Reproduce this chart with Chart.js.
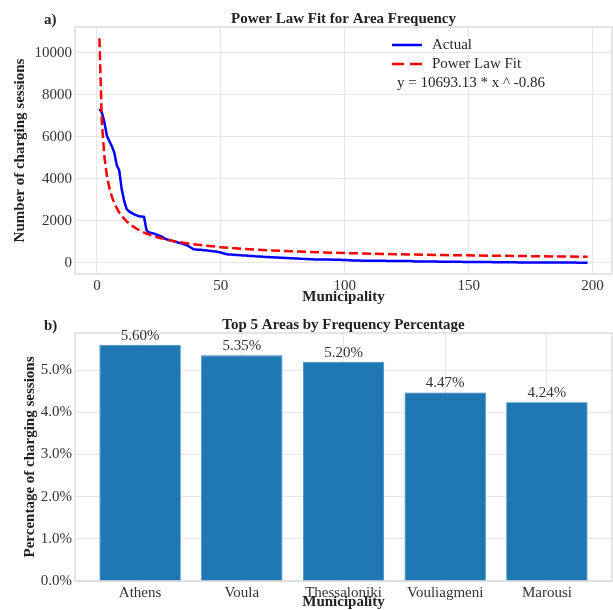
<!DOCTYPE html>
<html>
<head>
<meta charset="utf-8">
<title>Power Law Fit and Top 5 Areas</title>
<script src="https://cdn.jsdelivr.net/npm/chart.js@4.4.1/dist/chart.umd.min.js"></script>
<style>
  body { margin: 0; background: #fff; }
  canvas { display: block; }
</style>
</head>
<body>
<canvas id="fitChart" width="613" height="305"></canvas>
<canvas id="barChart" width="613" height="305"></canvas>
<script>
/////////////////////////////////////Data/////////////////////////////////////

// a) sessions per municipality, sorted high to low (rank 1..198)
const actualCounts = [
    7330, 7150, 6700, 6050, 5800, 5550, 5250, 4650, 4400, 3500,
    2950, 2560, 2450, 2380, 2310, 2260, 2220, 2210, 2190, 1560,
    1450, 1420, 1390, 1350, 1300, 1260, 1190, 1120, 1090, 1060,
    1030, 990, 955, 930, 890, 850, 790, 720, 650, 640,
    630, 620, 605, 595, 580, 565, 550, 540, 515, 495,
    460, 420, 400, 395, 390, 380, 372, 365, 355, 348,
    340, 332, 322, 312, 305, 298, 292, 285, 278, 270,
    262, 256, 250, 244, 238, 232, 226, 220, 214, 208,
    202, 196, 190, 186, 182, 178, 172, 166, 162, 160,
    158, 157, 156, 155, 152, 149, 146, 143, 140, 137,
    134, 128, 112, 110, 108, 107, 106, 105, 104, 103,
    101, 100, 98, 97, 96, 95, 94, 93, 92, 91,
    90, 89, 88, 87, 86, 85, 84, 70, 68, 67,
    66, 65, 64, 63, 62, 61, 60, 59, 58, 57,
    54, 53, 52, 51, 50, 49, 48, 47, 46, 45,
    44, 43, 42, 41, 40, 39, 38, 37, 36, 35,
    34, 33, 32, 31, 30, 26, 25, 24, 24, 23,
    23, 22, 22, 21, 21, 20, 20, 19, 19, 18,
    18, 17, 17, 16, 16, 15, 15, 14, 14, 13,
    13, 12, 12, 11, 11, 10, 10, 9
];

// fitted curve
const fitX = [1, 2, 3, 4, 5, 6, 7, 8, 9, 10, 12, 14, 16, 18, 20, 25, 30, 35, 40, 50,
              60, 70, 80, 90, 100, 120, 140, 160, 180, 198];
const fitY = [10693, 6675, 5065, 4166, 3579, 3162, 2848, 2600, 2400, 2234, 1974, 1777, 1623, 1498, 1395, 1198, 1058, 953, 870, 748,
              661, 595, 543, 501, 467, 413, 371, 339, 313, 293];
const fitEquation = 'y = 10693.13 * x ^ -0.86';

const fitXTicks = [0, 50, 100, 150, 200];
const fitYTicks = [0, 2000, 4000, 6000, 8000, 10000];

// b) top 5 areas
const areaNames = ['Athens', 'Voula', 'Thessaloniki', 'Vouliagmeni', 'Marousi'];
const areaShares = [5.60, 5.35, 5.20, 4.47, 4.24];
const shareTicks = [0, 1, 2, 3, 4, 5];

/////////////////////////////////////Style/////////////////////////////////////

Chart.defaults.font.family = "'Liberation Serif', 'Times New Roman', serif";
Chart.defaults.font.size = 15;
Chart.defaults.color = '#333';

const gridColor = '#e6e6e6';
const titleFont = { size: 15, weight: 'bold', lineHeight: 1 };

// light frame around the plot area (all four sides)
const framePlugin = {
    id: 'frame',
    beforeDatasetsDraw(chart) {
        const { ctx, chartArea: a } = chart;
        ctx.save();
        ctx.strokeStyle = '#d4d4d4';
        ctx.lineWidth = 1.2;
        ctx.strokeRect(a.left, a.top, a.right - a.left, a.bottom - a.top);
        ctx.restore();
    }
};

// "a)" / "b)" corner labels
const panelLabelPlugin = {
    id: 'panelLabel',
    afterDraw(chart, args, opts) {
        const ctx = chart.ctx;
        ctx.save();
        ctx.font = "bold 15px 'Liberation Serif', serif";
        ctx.fillStyle = '#222';
        ctx.textBaseline = 'middle';
        ctx.fillText(opts.text, opts.x, opts.y);
        ctx.restore();
    }
};

// legend box of the fit chart, top right inside the axes
const fitLegendPlugin = {
    id: 'fitLegend',
    afterDatasetsDraw(chart) {
        const ctx = chart.ctx;
        const right = chart.chartArea.right;
        const sets = chart.data.datasets;
        const x0 = right - 220, x1 = right - 190, tx = right - 180;
        ctx.save();
        ctx.font = "15px 'Liberation Serif', serif";
        ctx.fillStyle = '#262626';
        ctx.textBaseline = 'middle';
        [sets[1], sets[0]].forEach((ds, i) => {
            const y = 45 + i * 19;
            ctx.beginPath();
            ctx.strokeStyle = ds.borderColor;
            ctx.lineWidth = 2.5;
            ctx.setLineDash(ds.borderDash ? [12, 6] : []);
            ctx.moveTo(x0, y);
            ctx.lineTo(x1, y);
            ctx.stroke();
            ctx.fillText(ds.label, tx, y);
        });
        ctx.setLineDash([]);
        ctx.fillText(fitEquation, right - 215, 83);
        ctx.restore();
    }
};

// value labels on top of the bars
const barValuePlugin = {
    id: 'barValues',
    afterDatasetsDraw(chart) {
        const ctx = chart.ctx;
        const meta = chart.getDatasetMeta(0);
        ctx.save();
        ctx.font = "15px 'Liberation Serif', serif";
        ctx.fillStyle = '#333';
        ctx.textAlign = 'center';
        ctx.textBaseline = 'middle';
        meta.data.forEach((bar, i) => {
            ctx.fillText(areaShares[i].toFixed(2) + '%', bar.x, bar.y - 9);
        });
        ctx.restore();
    }
};

/////////////////////////////////////Chart a)/////////////////////////////////////

new Chart(document.getElementById('fitChart'), {
    type: 'line',
    data: {
        datasets: [
            {
                label: 'Power Law Fit',
                data: fitX.map((x, i) => ({ x: x, y: fitY[i] })),
                borderColor: '#ff0000',
                borderWidth: 2.5,
                borderDash: [9, 4],
                pointRadius: 0,
                order: 0
            },
            {
                label: 'Actual',
                data: actualCounts.map((v, i) => ({ x: i + 1, y: v })),
                borderColor: '#0000ff',
                borderWidth: 2.5,
                pointRadius: 0,
                order: 1
            }
        ]
    },
    options: {
        responsive: false,
        animation: false,
        layout: { padding: { left: 0, right: 1, top: 0, bottom: 0 } },
        plugins: {
            legend: { display: false },
            tooltip: { enabled: false },
            title: {
                display: true,
                text: 'Power Law Fit for Area Frequency',
                fullSize: false,
                color: '#222',
                font: titleFont,
                padding: { top: 12, bottom: 0 }
            },
            panelLabel: { text: 'a)', x: 44, y: 20 }
        },
        scales: {
            x: {
                type: 'linear',
                min: -8.85,
                max: 207.85,
                afterBuildTicks: s => { s.ticks = fitXTicks.map(v => ({ value: v })); },
                afterFit: s => { s.height = 31; },
                ticks: { padding: 3, callback: v => String(v) },
                grid: { color: gridColor, drawTicks: false },
                border: { display: false },
                title: {
                    display: true,
                    text: 'Municipality',
                    color: '#222',
                    font: titleFont,
                    padding: { top: 0, bottom: 0.5 }
                }
            },
            y: {
                type: 'linear',
                min: -530,
                max: 11227,
                afterBuildTicks: s => { s.ticks = fitYTicks.map(v => ({ value: v })); },
                afterFit: s => { s.width = 75; },
                ticks: { padding: 3, callback: v => String(v) },
                grid: { color: gridColor, drawTicks: false },
                border: { display: false },
                title: {
                    display: true,
                    text: 'Number of charging sessions',
                    color: '#222',
                    font: titleFont,
                    padding: { top: 12.5, bottom: 0 }
                }
            }
        }
    },
    plugins: [framePlugin, fitLegendPlugin, panelLabelPlugin]
});

/////////////////////////////////////Chart b)/////////////////////////////////////

new Chart(document.getElementById('barChart'), {
    type: 'bar',
    data: {
        datasets: [{
            label: 'Percentage',
            data: areaShares.map((v, i) => ({ x: i, y: v })),
            backgroundColor: '#1f77b4',
            borderColor: '#2a7fba',
            borderWidth: 0.8,
            barPercentage: 0.8,
            categoryPercentage: 1.0
        }]
    },
    options: {
        responsive: false,
        animation: false,
        layout: { padding: { left: 0, right: 1, top: 0, bottom: 0 } },
        plugins: {
            legend: { display: false },
            tooltip: { enabled: false },
            title: {
                display: true,
                text: 'Top 5 Areas by Frequency Percentage',
                fullSize: false,
                color: '#222',
                font: titleFont,
                padding: { top: 12.5, bottom: 0.5 }
            },
            panelLabel: { text: 'b)', x: 44, y: 21 }
        },
        scales: {
            x: {
                type: 'linear',
                offset: false,
                min: -0.64,
                max: 4.64,
                afterBuildTicks: s => { s.ticks = areaNames.map((n, i) => ({ value: i })); },
                afterFit: s => { s.height = 29; },
                ticks: { padding: 3, callback: v => areaNames[v] },
                grid: { color: gridColor, drawTicks: false, offset: false },
                border: { display: false },
                title: {
                    display: true,
                    text: 'Municipality',
                    color: '#222',
                    font: titleFont,
                    padding: { top: 0, bottom: 0 }
                }
            },
            y: {
                type: 'linear',
                min: 0,
                max: 5.88,
                afterBuildTicks: s => { s.ticks = shareTicks.map(v => ({ value: v })); },
                afterFit: s => { s.width = 75; },
                ticks: { padding: 3, callback: v => v.toFixed(1) + '%' },
                grid: { color: gridColor, drawTicks: false },
                border: { display: false },
                title: {
                    display: true,
                    text: 'Percentage of charging sessions',
                    color: '#222',
                    font: titleFont,
                    padding: { top: 22.5, bottom: 0 }
                }
            }
        }
    },
    plugins: [framePlugin, barValuePlugin, panelLabelPlugin]
});
</script>
</body>
</html>
